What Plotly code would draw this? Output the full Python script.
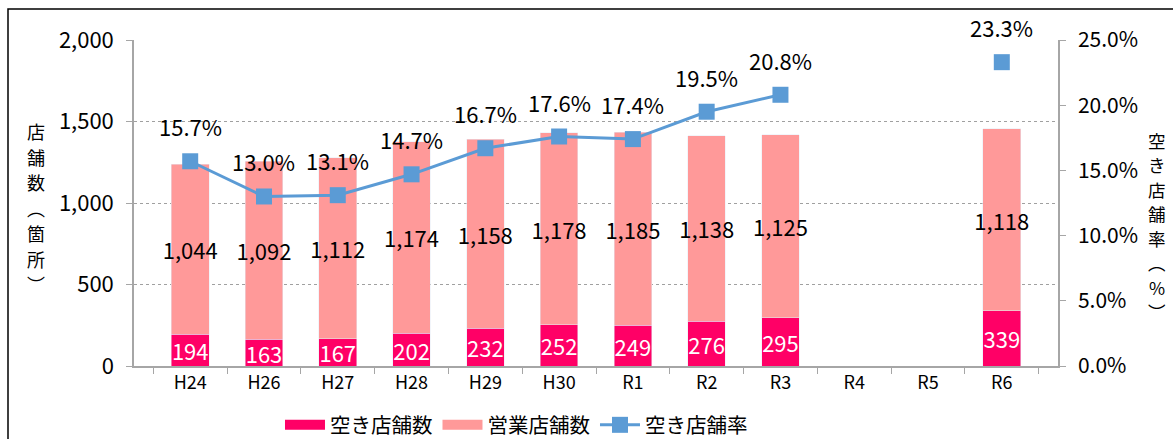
import plotly.graph_objects as go

# Survey years (Heisei / Reiwa)
years = ["H24", "H26", "H27", "H28", "H29", "H30", "R1", "R2", "R3", "R4", "R5", "R6"]

# Vacant shops, operating shops, vacancy rate (%)
vacant = [194, 163, 167, 202, 232, 252, 249, 276, 295, None, None, 339]
operating = [1044, 1092, 1112, 1174, 1158, 1178, 1185, 1138, 1125, None, None, 1118]
vacancy_rate = [15.7, 13.0, 13.1, 14.7, 16.7, 17.6, 17.4, 19.5, 20.8, None, None, 23.3]

# Axis ticks
count_ticks = [0, 500, 1000, 1500, 2000]
rate_ticks = [0, 5, 10, 15, 20, 25]

FONT = "Noto Sans CJK JP"
C_VACANT = "#FF0066"
C_OPER = "#FF9999"
C_RATE = "#5B9BD5"
AXIS_GRAY = "#A6A6A6"

# Plot area in pixels (used for placing the vertical titles)
W, H = 1173, 439
L, R, T, B = 134, 115, 40, 73
PW, PH = W - L - R, H - T - B

fig = go.Figure()

fig.add_trace(go.Bar(
    x=years, y=vacant, name="空き店舗数", marker_color=C_VACANT,
    text=[f"{v:,}" if v is not None else "" for v in vacant],
    textposition="inside", insidetextanchor="middle", textangle=0,
    constraintext="none",
    textfont=dict(color="white", size=22, family=FONT),
    showlegend=False, yaxis="y",
))
fig.add_trace(go.Bar(
    x=years, y=operating, name="営業店舗数", marker_color=C_OPER,
    text=[f"{v:,}" if v is not None else "" for v in operating],
    textposition="inside", insidetextanchor="middle", textangle=0,
    constraintext="none",
    textfont=dict(color="black", size=22, family=FONT),
    showlegend=False, yaxis="y",
))
fig.add_trace(go.Scatter(
    x=years, y=vacancy_rate, name="空き店舗率", mode="lines+markers",
    line=dict(color=C_RATE, width=3),
    marker=dict(symbol="square", size=16, color=C_RATE),
    connectgaps=False, yaxis="y2", showlegend=False,
))

# Legend entries: wide swatches for the bar series, line+marker for the rate
fig.add_trace(go.Scatter(x=[None], y=[None], mode="lines", name="空き店舗数",
                         line=dict(color=C_VACANT, width=12)))
fig.add_trace(go.Scatter(x=[None], y=[None], mode="lines", name="営業店舗数",
                         line=dict(color=C_OPER, width=12)))
fig.add_trace(go.Scatter(x=[None], y=[None], mode="lines+markers", name="空き店舗率",
                         line=dict(color=C_RATE, width=3),
                         marker=dict(symbol="square", size=16, color=C_RATE),
                         yaxis="y2"))

annotations = []
for yr, r in zip(years, vacancy_rate):
    if r is None:
        continue
    annotations.append(dict(
        x=yr, y=r, xref="x", yref="y2", text=f"{r:.1f}%", showarrow=False,
        yshift=35, font=dict(size=22, color="black", family=FONT),
    ))


def vertical_title(text, x_px, y0_px, step_px, size):
    """Stack the characters of a title one under another."""
    out = []
    for i, ch in enumerate(text):
        py = y0_px + i * step_px
        out.append(dict(
            x=(x_px - L) / PW, y=(H - B - py) / PH, xref="paper", yref="paper",
            text=ch, showarrow=False, xanchor="center", yanchor="middle",
            font=dict(size=size, color="black", family=FONT),
        ))
    return out


annotations += vertical_title("店舗数︵箇所︶", 36, 131, 25.5, 18)
annotations += vertical_title("空き店舗率︵%︶", 1157, 140, 24.5, 17.5)

fig.update_layout(
    width=W, height=H,
    margin=dict(l=L, r=R, t=T, b=B, autoexpand=False),
    paper_bgcolor="white", plot_bgcolor="white",
    font=dict(family=FONT, color="black"),
    barmode="stack", bargap=0.49,
    annotations=annotations,
    legend=dict(
        orientation="h", x=0.158, y=-0.181, xanchor="left", yanchor="middle",
        font=dict(size=20.5, family=FONT), itemwidth=40, traceorder="normal",
    ),
    xaxis=dict(
        type="category", showline=True, linecolor=AXIS_GRAY, linewidth=1.5,
        ticks="outside", tickson="boundaries", ticklen=6, tickcolor=AXIS_GRAY,
        tickfont=dict(size=18, family=FONT), showgrid=False,
    ),
    yaxis=dict(
        range=[0, 2000], tickvals=count_ticks,
        ticktext=[f"{v:,}" for v in count_ticks],
        showline=True, linecolor=AXIS_GRAY, linewidth=1.5,
        ticks="outside", ticklen=6, tickcolor=AXIS_GRAY, ticklabelstandoff=8,
        showgrid=True, gridcolor="#A0A0A0", griddash="dot", gridwidth=1,
        zeroline=False, tickfont=dict(size=22, family=FONT),
    ),
    yaxis2=dict(
        range=[0, 25], tickvals=rate_ticks,
        ticktext=[f"{v:.1f}%" for v in rate_ticks],
        overlaying="y", side="right",
        showline=True, linecolor=AXIS_GRAY, linewidth=1.5,
        ticks="outside", ticklen=6, tickcolor=AXIS_GRAY, ticklabelstandoff=8,
        showgrid=False, zeroline=False, tickfont=dict(size=21, family=FONT),
    ),
    shapes=[dict(
        type="rect", xref="paper", yref="paper",
        x0=(8 - L) / PW, x1=1.2, y0=-0.4, y1=1 + (T - 9) / PH,
        line=dict(color="black", width=1.5), fillcolor="rgba(0,0,0,0)", layer="below",
    )],
)

fig.write_html("out.html")
